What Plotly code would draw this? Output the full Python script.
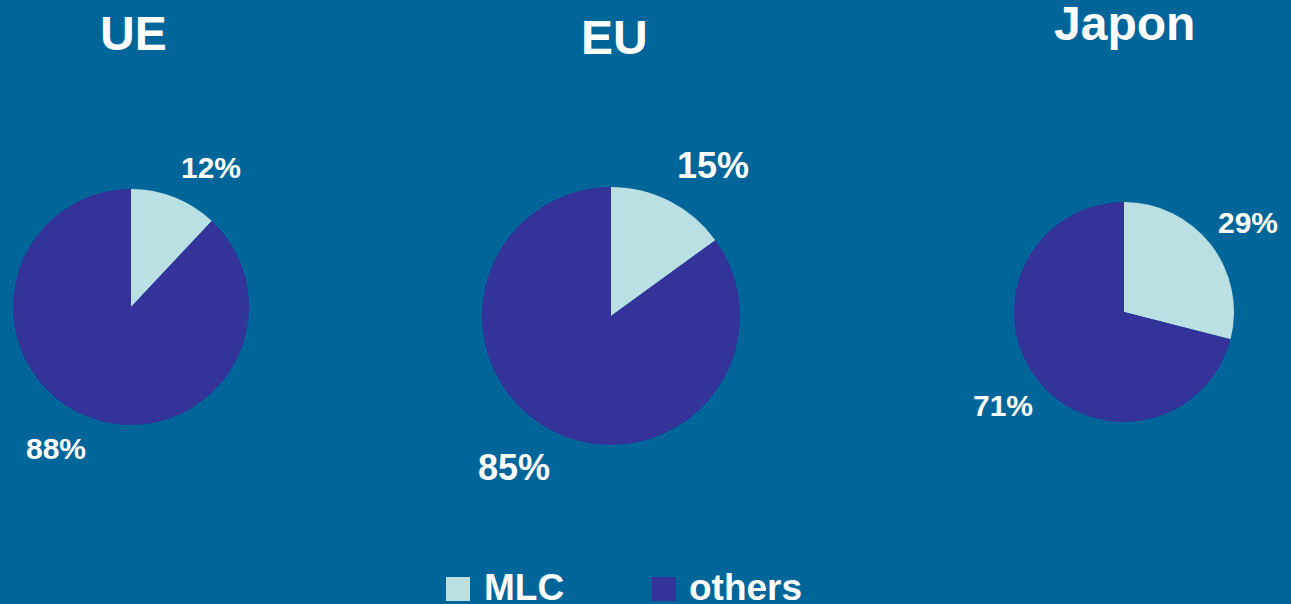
import plotly.graph_objects as go

# data
regions = ["UE", "EU", "Japon"]
categories = ["MLC", "others"]
mlc_share = [12, 15, 29]
others_share = [88, 85, 71]

BG = "#006699"
LIGHT = "#BBE0E3"
DARK = "#333399"
FONT = "Arial, Liberation Sans, sans-serif"
W, H = 1291, 604


def px(x):
    return x / W


def py(y):
    return 1 - y / H


# pie boxes in pixels: (left, top, diameter)
boxes = [(13, 189, 236), (482, 187, 258), (1014, 202, 220)]
title_pos = [(133, 34, 48), (614, 38, 48), (1124, 24, 48)]
# label pixel positions (mlc, others) and font size
label_pos = [
    ((211, 167), (56, 448), 30),
    ((713, 166), (514, 467), 36),
    ((1248, 223), (1003, 405), 30),
]

fig = go.Figure()
for i, reg in enumerate(regions):
    l, t, d = boxes[i]
    fig.add_trace(go.Pie(
        labels=categories, values=[mlc_share[i], others_share[i]],
        marker=dict(colors=[LIGHT, DARK], line=dict(width=0)),
        sort=False, direction="clockwise", rotation=0,
        textinfo="none", hoverinfo="label+percent",
        domain=dict(x=[px(l), px(l + d)], y=[py(t + d), py(t)]),
        showlegend=False, name=reg,
    ))

annotations = []
for i, reg in enumerate(regions):
    x, y, fs = title_pos[i]
    annotations.append(dict(
        x=px(x), y=py(y), xref="paper", yref="paper", text=f"<b>{reg}</b>",
        showarrow=False, xanchor="center", yanchor="middle",
        font=dict(family=FONT, size=fs, color="white"),
    ))
    (mx, my), (ox, oy), fs = label_pos[i]
    for (lx, ly), v in [((mx, my), mlc_share[i]), ((ox, oy), others_share[i])]:
        annotations.append(dict(
            x=px(lx), y=py(ly), xref="paper", yref="paper", text=f"<b>{v}%</b>",
            showarrow=False, xanchor="center", yanchor="middle",
            font=dict(family=FONT, size=fs, color="white"),
        ))

# hand-made legend at the bottom
shapes = []
for (sx, tx), name, col in [((446, 482), categories[0], LIGHT), ((652, 687), categories[1], DARK)]:
    shapes.append(dict(
        type="rect", xref="paper", yref="paper",
        x0=px(sx), x1=px(sx + 24), y0=py(601), y1=py(577),
        fillcolor=col, line=dict(width=0),
    ))
    annotations.append(dict(
        x=px(tx), y=py(587), xref="paper", yref="paper", text=f"<b>{name}</b>",
        showarrow=False, xanchor="left", yanchor="middle",
        font=dict(family=FONT, size=37, color="white"),
    ))

fig.update_layout(
    width=W, height=H,
    margin=dict(l=0, r=0, t=0, b=0),
    paper_bgcolor=BG, plot_bgcolor=BG,
    annotations=annotations, shapes=shapes,
    showlegend=False,
)
fig.write_html(
    "out.html",
    config={"displayModeBar": False},
    post_script="document.body.style.margin='0';document.body.style.overflow='hidden';",
)
